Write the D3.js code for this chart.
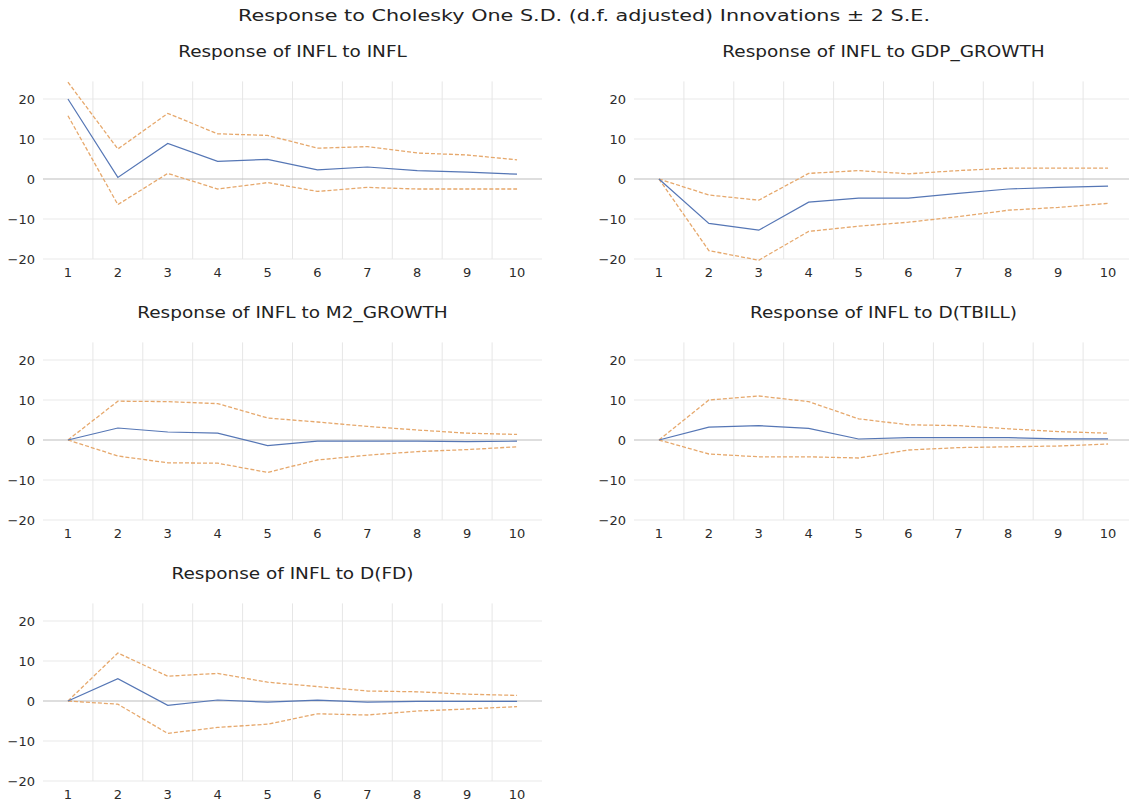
<!DOCTYPE html>
<html>
<head>
<meta charset="utf-8">
<script src="https://cdn.jsdelivr.net/npm/d3@7"></script>
<style>
    body { margin: 0; background: #ffffff; }
    .tick text { font-family: "DejaVu Sans", sans-serif; font-size: 13px; fill: #2b2b2b; }
    .main-title { font-family: "DejaVu Sans", sans-serif; font-size: 15px; fill: #222222; }
    .panel-title { font-family: "DejaVu Sans", sans-serif; font-size: 15px; fill: #222222; }
</style>
</head>
<body>
<div id="chart"></div>
<script>

// periods after the shock
let periods = [1, 2, 3, 4, 5, 6, 7, 8, 9, 10]
let yTicks = [-20, -10, 0, 10, 20]

// INFL to INFL
let inflInfl = [20.0, 0.4, 8.9, 4.4, 4.9, 2.3, 3.0, 2.1, 1.7, 1.2]
let inflInflHi = [24.2, 7.5, 16.4, 11.3, 10.9, 7.7, 8.1, 6.5, 6.0, 4.8]
let inflInflLo = [15.8, -6.4, 1.4, -2.5, -0.9, -3.1, -2.1, -2.5, -2.5, -2.5]

// INFL to GDP_GROWTH
let inflGdp = [0, -11.1, -12.8, -5.8, -4.8, -4.8, -3.6, -2.5, -2.1, -1.8]
let inflGdpHi = [0, -4.0, -5.3, 1.4, 2.1, 1.3, 2.1, 2.7, 2.7, 2.7]
let inflGdpLo = [0, -17.9, -20.3, -13.1, -11.8, -10.8, -9.4, -7.8, -7.1, -6.1]

// INFL to M2_GROWTH
let inflM2 = [0, 3.0, 2.0, 1.7, -1.4, -0.3, -0.3, -0.3, -0.4, -0.3]
let inflM2Hi = [0, 9.7, 9.6, 9.1, 5.5, 4.5, 3.4, 2.5, 1.7, 1.4]
let inflM2Lo = [0, -4.0, -5.7, -5.8, -8.1, -5.0, -3.8, -2.9, -2.4, -1.7]

// INFL to D(TBILL)
let inflTbill = [0, 3.2, 3.6, 2.9, 0.25, 0.6, 0.6, 0.6, 0.3, 0.3]
let inflTbillHi = [0, 10.0, 11.0, 9.6, 5.3, 3.8, 3.6, 2.8, 2.1, 1.7]
let inflTbillLo = [0, -3.5, -4.2, -4.2, -4.5, -2.5, -1.9, -1.7, -1.5, -1.0]

// INFL to D(FD)
let inflFd = [0, 5.6, -1.1, 0.25, -0.3, 0.2, -0.3, -0.1, -0.1, -0.1]
let inflFdHi = [0, 12.0, 6.2, 6.9, 4.7, 3.6, 2.5, 2.3, 1.7, 1.4]
let inflFdLo = [0, -0.8, -8.1, -6.6, -5.8, -3.2, -3.5, -2.5, -2.0, -1.4]

let panelTitles = ['Response of INFL to INFL', 'Response of INFL to GDP_GROWTH',
    'Response of INFL to M2_GROWTH', 'Response of INFL to D(TBILL)', 'Response of INFL to D(FD)']
let responses = [inflInfl, inflGdp, inflM2, inflTbill, inflFd]
let uppers = [inflInflHi, inflGdpHi, inflM2Hi, inflTbillHi, inflFdHi]
let lowers = [inflInflLo, inflGdpLo, inflM2Lo, inflTbillLo, inflFdLo]

let width = 1129, height = 804;
let svg = d3.select('#chart').append('svg')
    .attr('width', width)
    .attr('height', height);

svg.append('text')
    .attr('class', 'main-title')
    .attr('x', 584)
    .attr('y', 21)
    .attr('text-anchor', 'middle')
    .attr('textLength', 692)
    .attr('lengthAdjust', 'spacingAndGlyphs')
    .text('Response to Cholesky One S.D. (d.f. adjusted) Innovations \u00b1 2 S.E.');

// layout of the grid of panels
let colLeft = [43, 634];
let rowBottom = [259, 520, 781];
let plotW = 499;
let plotH = 177.6;
// the reference text is a little wider than DejaVu, stretch it
let titleStretch = 1.23;

function drawPanel(i) {
    let left = colLeft[i % 2];
    let bottom = rowBottom[Math.floor(i / 2)];

    let x = d3.scaleBand().domain(periods).range([left, left + plotW]);
    let y = d3.scaleLinear().domain([-20, 24.4]).range([bottom, bottom - plotH]);
    let cx = d => x(d) + x.bandwidth() / 2;

    let g = svg.append('g');

    // horizontal gridlines
    g.selectAll('.hgrid').data(yTicks.filter(t => t !== 0))
        .enter().append('line')
        .attr('x1', left).attr('x2', left + plotW)
        .attr('y1', d => y(d)).attr('y2', d => y(d))
        .attr('stroke', '#e9e9e9').attr('stroke-width', 1);

    // vertical gridlines between periods
    g.selectAll('.vgrid').data(periods.slice(1))
        .enter().append('line')
        .attr('x1', d => x(d)).attr('x2', d => x(d))
        .attr('y1', y(24.4)).attr('y2', y(-20))
        .attr('stroke', '#e6e6e6').attr('stroke-width', 1);

    // zero line
    g.append('line')
        .attr('x1', left).attr('x2', left + plotW)
        .attr('y1', y(0)).attr('y2', y(0))
        .attr('stroke', '#bdbdbd').attr('stroke-width', 1.2);

    let yAxis = g.append('g')
        .attr('transform', `translate(${left},0)`)
        .call(d3.axisLeft(y).tickValues(yTicks).tickSize(0).tickPadding(8));
    yAxis.select('.domain').remove();

    let xAxis = g.append('g')
        .attr('transform', `translate(0,${bottom})`)
        .call(d3.axisBottom(x).tickSize(0).tickPadding(9));
    xAxis.select('.domain').remove();
    g.selectAll('.tick text').attr('font-family', null).attr('font-size', null);

    let line = d3.line()
        .x((d, j) => cx(periods[j]))
        .y(d => y(d));

    [uppers[i], lowers[i]].forEach(band => {
        g.append('path')
            .datum(band)
            .attr('d', line)
            .attr('fill', 'none')
            .attr('stroke', '#e6a86c')
            .attr('stroke-width', 1.3)
            .attr('stroke-dasharray', '4,2');
    });

    g.append('path')
        .datum(responses[i])
        .attr('d', line)
        .attr('fill', 'none')
        .attr('stroke', '#5576b5')
        .attr('stroke-width', 1.2);

    let title = g.append('text')
        .attr('class', 'panel-title')
        .attr('x', left + plotW / 2)
        .attr('y', bottom - 202)
        .attr('text-anchor', 'middle')
        .text(panelTitles[i]);
    let natural = title.node().getComputedTextLength();
    title.attr('textLength', natural * titleStretch)
        .attr('lengthAdjust', 'spacingAndGlyphs');
}

panelTitles.forEach((t, i) => drawPanel(i));

</script>
</body>
</html>
